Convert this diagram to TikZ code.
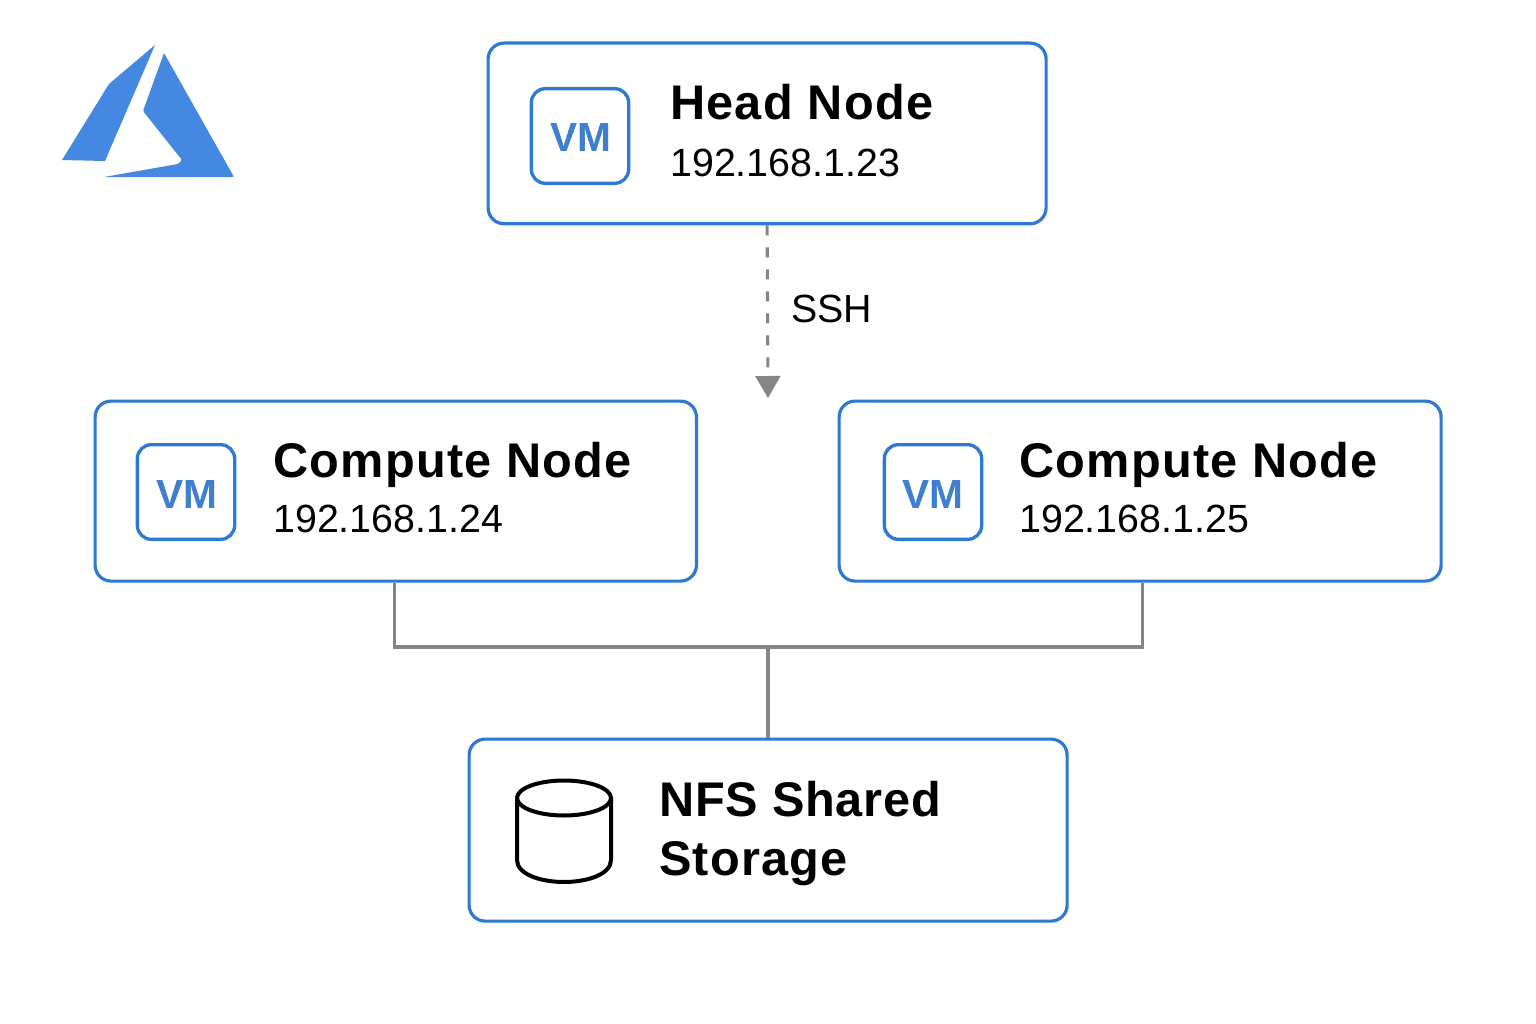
\documentclass[tikz,border=0pt]{standalone}
\usepackage{fontspec}
\setmainfont{Liberation Sans}
\newfontfamily\titlefont[LetterSpace=2.6]{Liberation Sans}
\newfontfamily\storefont[LetterSpace=1.5]{Liberation Sans}
\usetikzlibrary{arrows.meta}
\definecolor{boxblue}{HTML}{2F78D4}
\definecolor{logoblue}{HTML}{4488E2}
\definecolor{vmblue}{HTML}{3F7FCF}
\definecolor{linegray}{HTML}{858585}
\tikzset{
  x=0.75pt,y=-0.75pt,
  cardbox/.style={draw=boxblue,line width=2.4pt,rounded corners=12pt,fill=white,inner sep=0pt,anchor=north west},
  vmbox/.style={draw=boxblue,line width=2.5pt,rounded corners=10.5pt,fill=white,inner sep=0pt,
    minimum width=73pt,minimum height=71pt},
  vmlabel/.style={inner sep=0pt,text=vmblue,font=\fontsize{30.5}{30.5}\selectfont\bfseries},
  titletext/.style={anchor=base west,inner sep=0pt,font=\titlefont\fontsize{36.5}{36.5}\selectfont\bfseries},
  storetext/.style={anchor=base west,inner sep=0pt,font=\storefont\fontsize{36.5}{36.5}\selectfont\bfseries},
  iptext/.style={anchor=base west,inner sep=0pt,font=\fontsize{29.5}{29.5}\selectfont},
  wire/.style={draw=linegray,line width=2.5pt,line join=miter},
  sshline/.style={draw=linegray,line width=2.3pt,dash pattern=on 7.5pt off 9pt,
    -{Triangle[length=16.5pt,width=18.5pt,fill=linegray]}},
}
\begin{document}
\begin{tikzpicture}
\useasboundingbox[fill=white] (0,0) rectangle (1536,1024);
% Azure logo
\fill[logoblue] (155,45) -- (109,84) -- (62,160) -- (105,161) -- cycle;
\fill[logoblue,rounded corners=1pt] (164,53) -- (234,177) -- (104,177) -- (178,164) -- (182,160) -- (143,111) -- cycle;
% cards
\node[cardbox,minimum width=418.5pt,minimum height=135.5pt] (head) at (486.5,41.5) {};
\node[cardbox,minimum width=451pt,minimum height=135pt] (compA) at (93.5,399.5) {};
\node[cardbox,minimum width=451.5pt,minimum height=135pt] (compB) at (837.5,399.5) {};
\node[cardbox,minimum width=448.5pt,minimum height=136.5pt] (store) at (467.5,737.5) {};
% VM icons
\node[vmbox] (vmH) at (580,136) {};
\node[vmbox] (vmA) at (186,492) {};
\node[vmbox] (vmB) at (933,492) {};
\node[vmlabel] (vmHT) at (580.5,138) {VM};
\node[vmlabel] (vmAT) at (186.5,495) {VM};
\node[vmlabel] (vmBT) at (932.5,495) {VM};
% texts
\node[titletext] (headT) at (670,120) {Head Node};
\node[iptext] (headI) at (670,176) {192.168.1.23};
\node[titletext] (compAT) at (273,477) {Compute Node};
\node[iptext] (compAI) at (273,532) {192.168.1.24};
\node[titletext] (compBT) at (1019,477) {Compute Node};
\node[iptext] (compBI) at (1019,532) {192.168.1.25};
\node[storetext] (storeT) at (659,816) {NFS Shared};
\node[titletext] (storeS) at (659,875) {Storage};
\node[anchor=base west,inner sep=0pt,font=\fontsize{29.5}{29.5}\selectfont] (ssh) at (791,322) {SSH};
% cylinder
\draw[black,line width=3pt] (564,798) ellipse [x radius=47,y radius=17.5];
\draw[black,line width=3pt,line cap=round] (517,798) -- (517,860)
  .. controls (517,874) and (540,882) .. (564,882)
  .. controls (588,882) and (611,874) .. (611,860) -- (611,798);
% connectors
\coordinate (sshEnd) at (768,398);
\coordinate (bus) at (768,647);
\draw[sshline] (head.south) -- (sshEnd);
\draw[wire] ([xshift=-1.2pt]compA.south) |- (bus) -| ([xshift=1.8pt]compB.south);
\draw[wire] (bus) -- (bus |- store.north);
\end{tikzpicture}
\end{document}
